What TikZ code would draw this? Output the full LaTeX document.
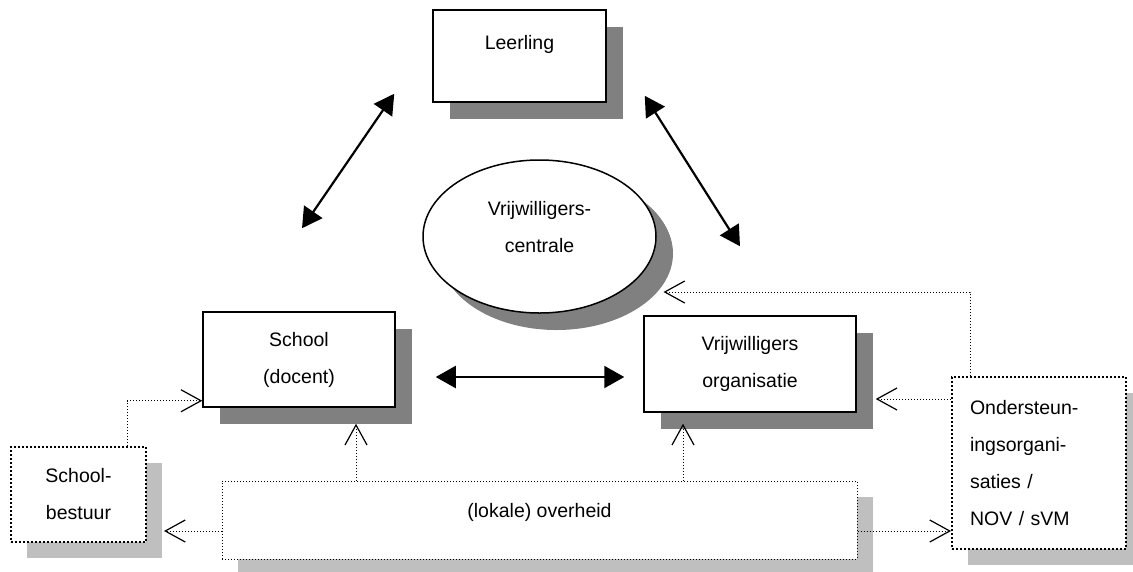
\documentclass[tikz,border=0pt]{standalone}
\usepackage{fontspec}
\setmainfont{Liberation Sans}
\usetikzlibrary{arrows.meta,shapes.geometric,shadows}
\tikzstyle{box}=[draw, line width=1.5pt, fill=white, align=center, drop shadow={shadow xshift=17pt, shadow yshift=-17pt, fill=black!50, opacity=1}]
\tikzstyle{dbox}=[draw, line width=2pt, dash pattern=on 2pt off 2pt, fill=white, drop shadow={shadow xshift=16pt, shadow yshift=-16pt, fill=black!25, opacity=1}]
\tikzstyle{dbl}=[line width=2.2pt, {Triangle[length=20pt,width=22pt]}-{Triangle[length=20pt,width=22pt]}]
\tikzstyle{dotarr}=[line width=1pt, dash pattern=on 1pt off 2pt, -{Straight Barb[length=20pt,width=22pt,line width=1.2pt]}]

\begin{document}
\begin{tikzpicture}[x=1pt, y=-1pt, font=\fontsize{19.5}{37}\selectfont]
        \useasboundingbox (0,0) rectangle (1133,571);
        \node[box, minimum width=173pt, minimum height=92pt, text height=14pt, text depth=28pt] (le) at (519.5,56) {Leerling};
        \node[box, minimum width=192pt, minimum height=95pt] (sch) at (299,359.5) {School\\(docent)};
        \node[box, minimum width=212pt, minimum height=96pt] (vo) at (750,364) {Vrijwilligers\\organisatie};
        \node[box, ellipse, minimum width=233pt, minimum height=153pt, drop shadow={shadow xshift=16pt, shadow yshift=-15pt, fill=black!50, opacity=1}, label={[align=center, yshift=9pt]center:Vrijwilligers-\\centrale}] (vc) at (539.5,236.5) {};
        \node[dbox, align=center, minimum width=135pt, minimum height=95pt] (sb) at (78.5,494.5) {School-\\bestuur};
        \node[dbox, line width=1pt, dash pattern=on 1pt off 2pt, minimum width=635pt, minimum height=78pt, text height=14pt, text depth=20pt] (ov) at (539.5,520) {(lokale) overheid};
        \node[dbox, align=left, text width=138pt, inner xsep=18pt, minimum height=172pt] (os) at (1039,463) {Ondersteun-\\ingsorgani-\\saties /\\NOV / sVM};
        \draw[dbl] ([shift={(-38,-9)}]le.south west) -- ([shift={(3,-83)}]sch.north);
        \draw[dbl] ([shift={(38,-7)}]le.south east) -- ([shift={(-10,-69)}]vo.north);
        \draw[dbl] ([shift={(40,17.5)}]sch.east) -- ([shift={(-19,13)}]vo.west);
        \coordinate (sbin) at ([xshift=17pt]sb.east);
        \coordinate (voin) at ([shift={(19,35)}]vo.east);
        \coordinate (vcin) at ([shift={(124,55.5)}]vc.center);
        \coordinate (schin) at ([shift={(57,16)}]sch.south);
        \coordinate (voup) at ([shift={(-67,11)}]vo.south);
        \draw[dotarr] ([xshift=-20pt]sb.north east) |- ([yshift=7pt]sch.south west);
        \draw[dotarr] ([yshift=-11pt]ov.west) -- ([yshift=-11pt]ov.west -| sbin);
        \draw[dotarr] ([yshift=-11pt]ov.east) -- ([yshift=-11pt]ov.east -| os.west);
        \draw[dotarr] (os.west |- voin) -- (voin);
        \draw[dotarr] ([xshift=19pt]os.north west) |- (vcin);
        \draw[dotarr] (ov.north -| schin) -- (schin);
        \draw[dotarr] (ov.north -| voup) -- (voup);
\end{tikzpicture}
\end{document}
